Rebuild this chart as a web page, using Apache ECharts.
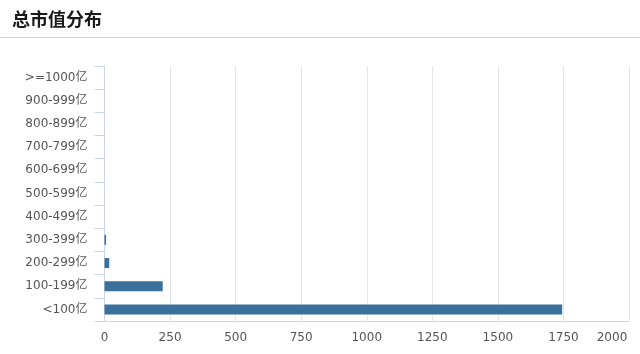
<!DOCTYPE html>
<html><head><meta charset="utf-8">
<script src="https://cdn.jsdelivr.net/npm/echarts@6/dist/echarts.min.js"></script>
<style>html,body{margin:0;padding:0;background:#fff}#c{width:640px;height:354px}</style>
</head><body><div id="c"></div>
<script>
const titleText = '总市值分布';
const categories = ['<100亿','100-199亿','200-299亿','300-399亿','400-499亿','500-599亿','600-699亿','700-799亿','800-899亿','900-999亿','>=1000亿'];
const counts = [1745, 222, 18, 6, 0, 0, 0, 0, 0, 0, 0];
const xTicks = {min: 0, max: 2000, interval: 250};

const chart = echarts.init(document.getElementById('c'));
chart.setOption({
  animation: false,
  title: {text: titleText, left: 7, top: 5, textStyle: {fontSize: 18, fontWeight: 'bold', color: '#1a1a1a', fontFamily: '"Noto Sans CJK SC", sans-serif'}},
  graphic: [{type: 'line', shape: {x1: 0, y1: 37.5, x2: 640, y2: 37.5}, style: {stroke: '#cfcfcf', lineWidth: 1}}],
  grid: {left: 104.5, right: 11, top: 66, bottom: 33, containLabel: false, outerBoundsMode: 'none'},
  xAxis: {
    type: 'value', min: xTicks.min, max: xTicks.max, interval: xTicks.interval,
    axisLine: {show: true, lineStyle: {color: '#ccd6eb'}},
    axisTick: {show: false},
    splitLine: {lineStyle: {color: '#e6e6e6'}},
    axisLabel: {
      color: '#555', fontSize: 12, margin: 11, fontFamily: '"DejaVu Sans", sans-serif',
      formatter: v => v === xTicks.max ? '{last|' + v + '}' : String(v),
      rich: {last: {color: '#555', fontSize: 12, fontFamily: '"DejaVu Sans", sans-serif', padding: [0, 34, 0, 0]}}
    }
  },
  yAxis: {
    type: 'category', data: categories,
    axisLine: {show: true, lineStyle: {color: '#ccd6eb'}},
    axisTick: {show: true, length: 10, lineStyle: {color: '#ccd6eb'}},
    splitLine: {show: false},
    axisLabel: {color: '#555', fontSize: 12, margin: 17, fontFamily: '"DejaVu Sans", "Noto Sans CJK SC", sans-serif'}
  },
  series: [{type: 'bar', data: counts, barWidth: 10, itemStyle: {color: '#3a7099'}}]
});
</script></body></html>
